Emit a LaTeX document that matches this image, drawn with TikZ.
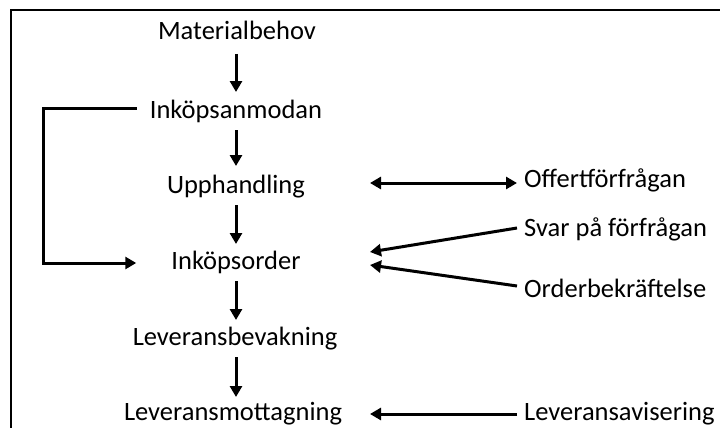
\documentclass[tikz,border=0pt]{standalone}
\usepackage{fontspec}
\setmainfont{Carlito}
\usetikzlibrary{arrows.meta,calc}
\begin{document}
\begin{tikzpicture}[x=1pt,y=-1pt,
  lbl/.style={inner sep=0pt,font=\fontsize{26.5}{30}\selectfont},
  conn/.style={line width=3pt},
  arr/.style={conn,-{Triangle[length=11pt,width=12pt]}},
  darr/.style={conn,{Triangle[length=11pt,width=12pt]}-{Triangle[length=11pt,width=12pt]}}]
\useasboundingbox (0,0) rectangle (720,428);
\draw[line width=1.5pt] (720,10) -- (11,10) -- (11,428);
% main column
\node[lbl,anchor=base] (mb) at (237,40) {Materialbehov};
\node[lbl,anchor=base] (ia) at (236,118) {Inköpsanmodan};
\node[lbl,anchor=base] (up) at (236,193) {Upphandling};
\node[lbl,anchor=base] (io) at (236,269) {Inköpsorder};
\node[lbl,anchor=base] (lb) at (235,345) {Leveransbevakning};
\node[lbl,anchor=base] (lm) at (233,420) {Leveransmottagning};
% right column
\node[lbl,anchor=base west] (of) at (524,187) {Offertförfrågan};
\node[lbl,anchor=base west] (sv) at (524,236) {Svar på förfrågan};
\node[lbl,anchor=base west] (ob) at (524,297) {Orderbekräftelse};
\node[lbl,anchor=base west] (la) at (524,420) {Leveransavisering};
% vertical arrows
\draw[arr] ($(ia.base |- mb.base)+(0,14)$) -- ($(ia.base)+(0,-26)$);
\draw[arr] ($(ia.base)+(0,12)$) -- ($(ia.base |- up.base)+(0,-27)$);
\draw[arr] ($(ia.base |- up.base)+(0,12)$) -- ($(ia.base |- io.base)+(0,-25)$);
\draw[arr] ($(ia.base |- io.base)+(0,12)$) -- ($(ia.base |- lb.base)+(0,-25)$);
\draw[arr] ($(ia.base |- lb.base)+(0,12)$) -- ($(ia.base |- lm.base)+(0,-23)$);
% loop
\draw[arr] ($(ia.base west)+(-13,-10)$) -- ++(-93,0) |- ($(io.base west)+(-35,-6)$);
% right arrows
\draw[darr] ($(up.base)+(134,-10)$) -- ($(of.base west)+(-7,-4)$);
\draw[arr] ($(sv.base west)+(-7,-8)$) -- ($(io.base)+(134,-17)$);
\draw[arr] ($(ob.base west)+(-7,-11)$) -- ($(io.base)+(134,-4)$);
\draw[arr] ($(la.base west)+(-7,-6)$) -- ($(lm.base)+(137,-6)$);
\end{tikzpicture}
\end{document}
